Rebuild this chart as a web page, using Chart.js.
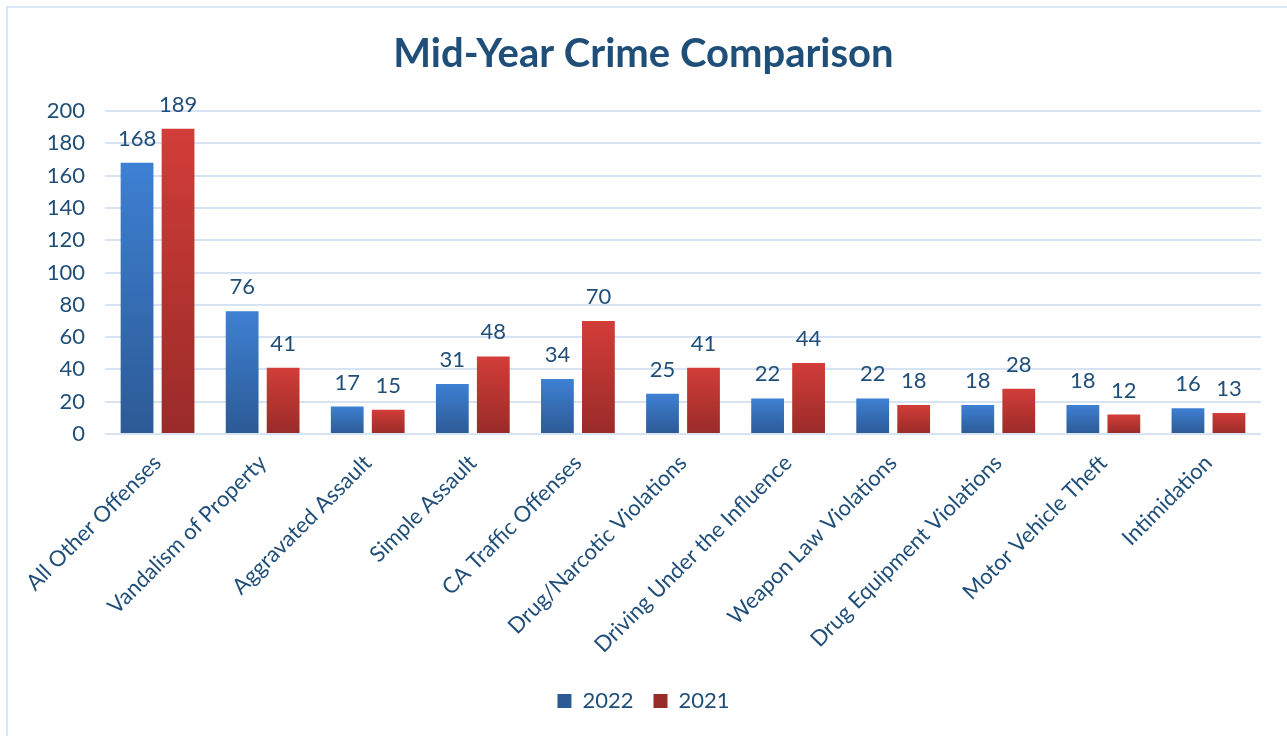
<!DOCTYPE html>
<html>
<head>
<meta charset="utf-8">
<script src="https://cdn.jsdelivr.net/npm/chart.js@4"></script>
<style>
  html, body { margin: 0; padding: 0; background: #fff; overflow: hidden; }
  #frame {
    position: absolute; left: 6px; top: 6px; width: 1400px; height: 800px;
    border-left: 2px solid #dae6f5; border-top: 2px solid #dae6f5;
  }
  #wrap { position: absolute; left: 0; top: 0; width: 1287px; height: 736px; }
</style>
</head>
<body>
<div id="frame"></div>
<div id="wrap"><canvas id="crime-chart"></canvas></div>
<script>
// ---- data ----
const categories = [
  "All Other Offenses", "Vandalism of Property", "Aggravated Assault", "Simple Assault",
  "CA Traffic Offenses", "Drug/Narcotic Violations", "Driving Under the Influence",
  "Weapon Law Violations", "Drug Equipment Violations", "Motor Vehicle Theft", "Intimidation"
];
const values2022 = [168, 76, 17, 31, 34, 25, 22, 22, 18, 18, 16];
const values2021 = [189, 41, 15, 48, 70, 41, 44, 18, 28, 12, 13];
const yTicks = [0, 20, 40, 60, 80, 100, 120, 140, 160, 180, 200];

const TEXT = "#1f4e79";
const FONT = "Lato, 'Open Sans', sans-serif";

// gradient for each bar, from its top down to the baseline
function barGradient(top, bottom) {
  return function (ctx) {
    const chart = ctx.chart;
    if (!chart.chartArea || ctx.parsed == null) return top;
    const y = chart.scales.y;
    const y0 = y.getPixelForValue(ctx.parsed.y);
    const y1 = y.getPixelForValue(0);
    if (!isFinite(y0) || y1 - y0 < 1) return top;
    const g = chart.ctx.createLinearGradient(0, y0, 0, y1);
    g.addColorStop(0, top);
    g.addColorStop(1, bottom);
    return g;
  };
}

// value labels above the bars
const valueLabels = {
  id: "valueLabels",
  afterDatasetsDraw(chart) {
    const ctx = chart.ctx;
    ctx.save();
    ctx.font = "22px " + FONT;
    ctx.fillStyle = TEXT;
    ctx.textAlign = "center";
    ctx.textBaseline = "alphabetic";
    chart.data.datasets.forEach((ds, i) => {
      chart.getDatasetMeta(i).data.forEach((bar, j) => {
        ctx.fillText(String(ds.data[j]), bar.x, bar.y - 17);
      });
    });
    ctx.restore();
  }
};

new Chart(document.getElementById("crime-chart"), {
  type: "bar",
  data: {
    labels: categories,
    datasets: [
      { label: "2022", data: values2022, backgroundColor: barGradient("#3e80d3", "#2c5a95") },
      { label: "2021", data: values2021, backgroundColor: barGradient("#d23d38", "#992b29") }
    ]
  },
  options: {
    responsive: true,
    maintainAspectRatio: false,
    animation: false,
    categoryPercentage: 0.78,
    barPercentage: 0.8,
    layout: { padding: { left: 26, right: 26, top: 18, bottom: 14 } },
    plugins: {
      title: {
        display: true,
        text: "Mid-Year Crime Comparison",
        color: TEXT,
        font: { family: FONT, size: 40, weight: "bold" },
        padding: { top: 12, bottom: 33 }
      },
      legend: {
        position: "bottom",
        labels: {
          color: TEXT,
          font: { family: FONT, size: 22 },
          boxWidth: 14,
          boxHeight: 14,
          padding: 20
        }
      },
      tooltip: { enabled: false }
    },
    scales: {
      y: {
        min: 0,
        max: 200,
        afterBuildTicks: (scale) => { scale.ticks = yTicks.map(v => ({ value: v })); },
        afterFit: (scale) => { scale.width = 79; },
        ticks: { color: TEXT, font: { family: FONT, size: 22 }, padding: 20 },
        grid: { color: "#d6e3f3", lineWidth: 2, drawTicks: false },
        border: { display: false }
      },
      x: {
        afterFit: (scale) => {
          scale.height = 236;
          scale.paddingLeft = 0;
          scale.paddingRight = 0;
        },
        ticks: {
          color: TEXT,
          font: { family: FONT, size: 22 },
          minRotation: 45,
          maxRotation: 45,
          padding: 8
        },
        grid: { display: false },
        border: { display: false }
      }
    }
  },
  plugins: [valueLabels]
});
</script>
</body>
</html>
